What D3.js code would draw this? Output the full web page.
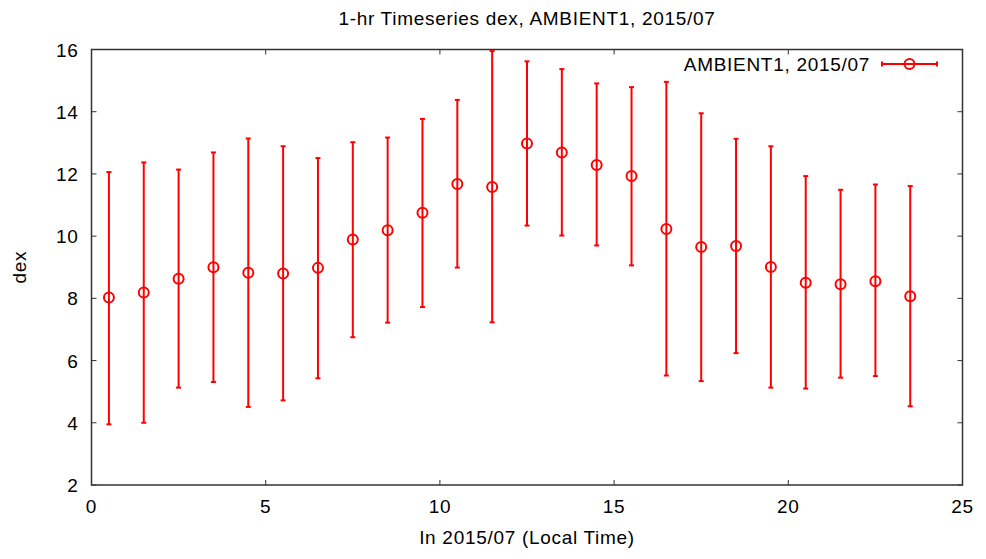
<!DOCTYPE html>
<html><head><meta charset="utf-8">
<script src="https://cdn.jsdelivr.net/npm/d3@7"></script>
<style>body{margin:0;background:#fff}svg{display:block}text{font-family:"Liberation Sans",Arial,sans-serif;fill:#000;letter-spacing:0.7px}</style>
</head><body><svg id="c" width="986" height="559"></svg>
<script>
const hours = [0.5,1.5,2.5,3.5,4.5,5.5,6.5,7.5,8.5,9.5,10.5,11.5,12.5,13.5,14.5,15.5,16.5,17.5,18.5,19.5,20.5,21.5,22.5,23.5];
const means = [8.03,8.19,8.63,9.0,8.82,8.80,8.98,9.89,10.19,10.75,11.68,11.58,12.98,12.69,12.29,11.93,10.23,9.65,9.68,9.01,8.50,8.45,8.55,8.07];
const uppers = [12.06,12.37,12.14,12.69,13.14,12.89,12.51,13.02,13.17,13.77,14.38,15.95,15.62,15.37,14.91,14.79,14.96,13.95,13.13,12.89,11.93,11.49,11.66,11.61];
const lowers = [3.95,4.0,5.13,5.31,4.51,4.72,5.43,6.75,7.22,7.72,8.99,7.23,10.34,10.02,9.70,9.06,5.52,5.34,6.24,5.13,5.10,5.45,5.50,4.53];
const xTicks = [0,5,10,15,20,25];
const yTicks = [2,4,6,8,10,12,14,16];
const titleText = "1-hr Timeseries dex, AMBIENT1, 2015/07";
const xLabel = "In 2015/07 (Local Time)";
const yLabel = "dex";
const legendLabel = "AMBIENT1, 2015/07";

const svg = d3.select("#c");
const L=91.5, R=962.5, T=49.5, B=485;
const x = d3.scaleLinear().domain([0,25]).range([L,R]);
const y = d3.scaleLinear().domain([2,16]).range([B,T]);
const red = "#ff0000", axisC = "#333";
const fs = 19;

// ticks
const tk = 5;
const g = svg.append("g");
xTicks.forEach(v=>{
  g.append("line").attr("x1",x(v)).attr("x2",x(v)).attr("y1",B).attr("y2",B-tk).attr("stroke",axisC);
  g.append("line").attr("x1",x(v)).attr("x2",x(v)).attr("y1",T).attr("y2",T+tk).attr("stroke",axisC);
  g.append("text").attr("x",x(v)).attr("y",B+28).attr("text-anchor","middle").attr("font-size",fs).text(v);
});
yTicks.forEach(v=>{
  g.append("line").attr("x1",L).attr("x2",L+tk).attr("y1",y(v)).attr("y2",y(v)).attr("stroke",axisC);
  g.append("line").attr("x1",R).attr("x2",R-tk).attr("y1",y(v)).attr("y2",y(v)).attr("stroke",axisC);
  g.append("text").attr("x",L-13).attr("y",y(v)+7).attr("text-anchor","end").attr("font-size",fs).text(v);
});
g.append("rect").attr("x",L).attr("y",T).attr("width",R-L).attr("height",B-T).attr("fill","none").attr("stroke",axisC).attr("stroke-width",1.5);

// title and labels
svg.append("text").attr("x",(L+R)/2).attr("y",25).attr("text-anchor","middle").attr("font-size",fs).text(titleText);
svg.append("text").attr("x",(L+R)/2).attr("y",544).attr("text-anchor","middle").attr("font-size",fs).text(xLabel);
svg.append("text").attr("transform",`translate(26,${(T+B)/2}) rotate(-90)`).attr("text-anchor","middle").attr("font-size",fs).text(yLabel);

// data
const data = hours.map((h,i)=>({h,m:means[i],u:uppers[i],l:lowers[i]}));
const pts = svg.append("g");
const cw = 2.5;
data.forEach(d=>{
  pts.append("line").attr("x1",x(d.h)).attr("x2",x(d.h)).attr("y1",y(d.l)).attr("y2",y(d.u)).attr("stroke",red).attr("stroke-width",2);
  pts.append("line").attr("x1",x(d.h)-cw).attr("x2",x(d.h)+cw).attr("y1",y(d.u)).attr("y2",y(d.u)).attr("stroke",red).attr("stroke-width",2);
  pts.append("line").attr("x1",x(d.h)-cw).attr("x2",x(d.h)+cw).attr("y1",y(d.l)).attr("y2",y(d.l)).attr("stroke",red).attr("stroke-width",2);
  pts.append("circle").attr("cx",x(d.h)).attr("cy",y(d.m)).attr("r",5).attr("fill","none").attr("stroke",red).attr("stroke-width",2);
});

// legend
const ly = 64;
svg.append("text").attr("x",870).attr("y",71).attr("text-anchor","end").attr("font-size",fs).text(legendLabel);
svg.append("line").attr("x1",882).attr("x2",937).attr("y1",ly).attr("y2",ly).attr("stroke",red).attr("stroke-width",2);
svg.append("line").attr("x1",882).attr("x2",882).attr("y1",ly-cw).attr("y2",ly+cw).attr("stroke",red).attr("stroke-width",2);
svg.append("line").attr("x1",937).attr("x2",937).attr("y1",ly-cw).attr("y2",ly+cw).attr("stroke",red).attr("stroke-width",2);
svg.append("circle").attr("cx",909.5).attr("cy",ly).attr("r",5).attr("fill","none").attr("stroke",red).attr("stroke-width",2);
</script></body></html>
